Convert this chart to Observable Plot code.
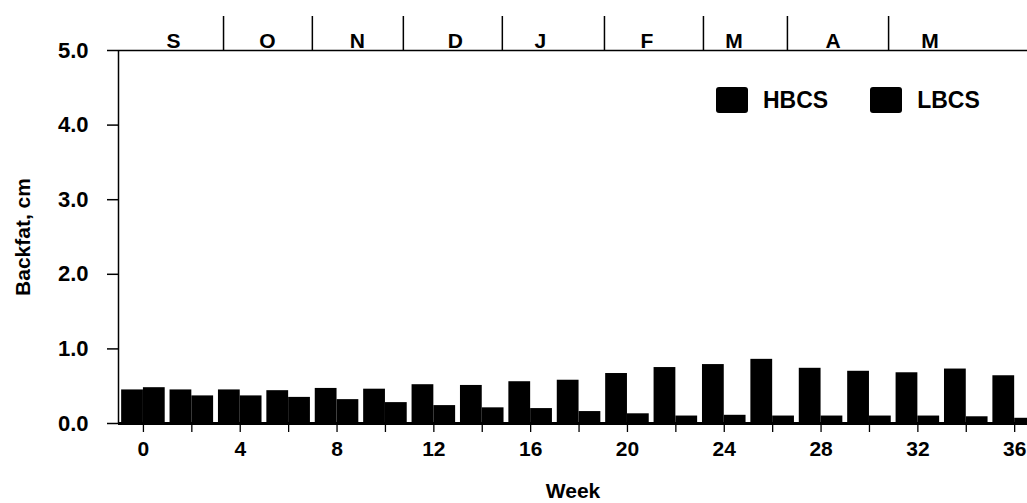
<!DOCTYPE html>
<html>
<head>
<meta charset="utf-8">
<script src="https://cdn.jsdelivr.net/npm/d3@7"></script>
<script src="https://cdn.jsdelivr.net/npm/@observablehq/plot@0.6"></script>
<style>
  body { margin: 0; background: #fff; }
  #wrap { position: relative; width: 1027px; height: 503px; font-family: "Liberation Sans", Arial, sans-serif; font-weight: bold; color: #000; }
  .legend { position: absolute; top: 87px; left: 716px; display: flex; align-items: center; }
  .item { display: flex; align-items: center; margin-right: 42px; }
  .swatch { width: 32px; height: 26px; border-radius: 3px; margin-right: 15px; }
  .lab { font-size: 23px; line-height: 26px; }
</style>
</head>
<body>
<div id="wrap"></div>
<script>
// ---- data ----
const weeks = [0, 2, 4, 6, 8, 10, 12, 14, 16, 18, 20, 22, 24, 26, 28, 30, 32, 34, 36];
const hbcs = [0.45, 0.45, 0.45, 0.44, 0.47, 0.46, 0.52, 0.51, 0.56, 0.58, 0.67, 0.75, 0.79, 0.86, 0.74, 0.70, 0.68, 0.73, 0.64];
const lbcs = [0.48, 0.37, 0.37, 0.35, 0.32, 0.28, 0.24, 0.21, 0.20, 0.16, 0.13, 0.10, 0.11, 0.10, 0.10, 0.10, 0.10, 0.09, 0.07];
const seriesNames = ["HBCS", "LBCS"];
const xTickLabels = [0, 4, 8, 12, 16, 20, 24, 28, 32, 36];
const yTicks = [0, 1, 2, 3, 4, 5];
const monthLabels = ["S", "O", "N", "D", "J", "F", "M", "A", "M"];
const monthMid = [1.24, 5.12, 8.84, 12.89, 16.4, 20.8, 24.4, 28.5, 32.5];
const monthBounds = [3.31, 6.98, 10.74, 14.83, 19.05, 23.14, 26.61, 30.79];
const xTitle = "Week";
const yTitle = "Backfat, cm";
const xDomain = [-1.03, 36.53];
const yDomain = [0, 5];

// ---- build tables ----
const barW = 0.9;
const data = weeks.flatMap((w, i) => [
  {week: w, series: seriesNames[0], value: hbcs[i]},
  {week: w, series: seriesNames[1], value: lbcs[i]}
]);
const months = monthLabels.map((m, i) => ({label: m, mid: monthMid[i]}));
const colors = {HBCS: "#000", LBCS: "#000"};
const font = "'Liberation Sans', Arial, sans-serif";

const chart = Plot.plot({
  width: 1027,
  height: 503,
  marginLeft: 118,
  marginRight: 0,
  marginTop: 50,
  marginBottom: 80,
  style: {fontFamily: font, fontWeight: "bold", fontSize: "22px", color: "#000", background: "#fff", overflow: "visible"},
  x: {domain: xDomain},
  y: {domain: yDomain},
  marks: [
    Plot.rectY(data, {
      x1: d => d.series === "HBCS" ? d.week - barW : d.week,
      x2: d => d.series === "HBCS" ? d.week : d.week + barW,
      y: "value",
      fill: d => colors[d.series]
    }),
    Plot.ruleY([yDomain[0]], {stroke: "#000", strokeWidth: 3}),
    Plot.ruleY([yDomain[1]], {stroke: "#000", strokeWidth: 1.5}),
    Plot.ruleX([xDomain[0]], {stroke: "#000", strokeWidth: 1.5}),
    Plot.axisY({ticks: yTicks, tickFormat: d3.format(".1f"), tickSize: 11, tickPadding: 19, strokeWidth: 1.5,
      fontSize: 22, label: null}),
    Plot.axisX({ticks: weeks, tickSize: 9, tickFormat: () => "", strokeWidth: 1.3, label: null}),
    Plot.axisX({ticks: xTickLabels, tickSize: 0, tickPadding: 18, fontSize: 21, label: null}),
    Plot.axisX({anchor: "top", ticks: monthBounds, tickSize: 35, tickFormat: () => "", strokeWidth: 1.5, label: null}),
    Plot.text(months, {x: "mid", frameAnchor: "top", lineAnchor: "bottom", dy: -3, text: "label", fontSize: 21, fill: "#000"}),
    Plot.text([xTitle], {frameAnchor: "bottom", lineAnchor: "middle", dy: 68, text: d => d, fontSize: 21, fill: "#000"}),
    Plot.text([yTitle], {frameAnchor: "left", textAnchor: "middle", lineAnchor: "middle", rotate: -90, dx: -95, text: d => d, fontSize: 21, fill: "#000"})
  ]
});

const wrap = document.getElementById("wrap");
wrap.appendChild(chart);
const legend = document.createElement("div");
legend.className = "legend";
seriesNames.forEach(s => {
  const item = document.createElement("div");
  item.className = "item";
  const sw = document.createElement("div");
  sw.className = "swatch";
  sw.style.background = colors[s];
  const lab = document.createElement("span");
  lab.className = "lab";
  lab.textContent = s;
  item.appendChild(sw);
  item.appendChild(lab);
  legend.appendChild(item);
});
wrap.appendChild(legend);
</script>
</body>
</html>
